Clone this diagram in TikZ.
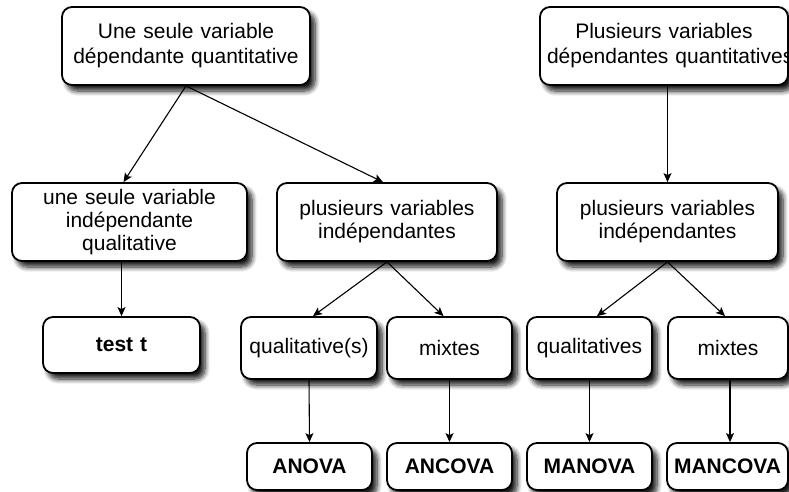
\documentclass[tikz,border=0pt]{standalone}
\usepackage{fontspec}
\setmainfont{Liberation Sans}
\usetikzlibrary{arrows.meta,shadows.blur}
\tikzset{
  box/.style={draw=black, line width=1.8pt, rounded corners=10pt, fill=white,
    inner xsep=7pt, inner ysep=0pt, align=center,
    font=\fontsize{21}{23}\selectfont,
    blur shadow={shadow xshift=5pt, shadow yshift=-6pt, shadow blur radius=5pt, shadow opacity=90, shadow blur steps=8}},
  final/.style={box, font=\fontsize{21}{23}\selectfont\bfseries},
  conn/.style={line width=1.1pt, -{Stealth[length=9pt,width=8pt,inset=2pt]}}
}
\begin{document}
\begin{tikzpicture}[x=1pt,y=-1pt]
\useasboundingbox (0,0) rectangle (789,491);
% top level
\node[box, minimum width=248pt, minimum height=78pt, text width=234pt, font=\fontsize{21}{25}\selectfont] (A) at (186,46) {Une seule variable\\dépendante quantitative};
\node[box, minimum width=248pt, minimum height=78pt, text width=234pt, font=\fontsize{21}{25}\selectfont] (B) at (664,46) {Plusieurs variables\\\mbox{dépendantes quantitatives}};
% second level
\node[box, minimum width=235pt, minimum height=78pt, text width=221pt] (C) at (129.5,222) {une seule variable\\indépendante\\qualitative};
\node[box, minimum width=220pt, minimum height=78pt, text width=206pt] (D) at (387,222) {plusieurs variables\\indépendantes};
\node[box, minimum width=221pt, minimum height=78pt, text width=207pt] (E) at (667.5,222) {plusieurs variables\\indépendantes};
% third level
\node[final, minimum width=157pt, minimum height=56pt, text width=143pt] (T) at (121.5,345) {test t};
\node[box, minimum width=136pt, minimum height=62pt, text width=122pt] (QS) at (309,348) {qualitative(s)};
\node[box, minimum width=125pt, minimum height=62pt, text width=111pt] (MX1) at (449.5,348) {mixtes};
\node[box, minimum width=125pt, minimum height=62pt, text width=111pt] (QL) at (589.5,348) {qualitatives};
\node[box, minimum width=120pt, minimum height=62pt, text width=106pt] (MX2) at (728,348) {mixtes};
% bottom level
\node[final, minimum width=125pt, minimum height=47pt, text width=111pt] (AN) at (309.5,466.5) {ANOVA};
\node[final, minimum width=125pt, minimum height=47pt, text width=111pt] (ANC) at (449.5,466.5) {ANCOVA};
\node[final, minimum width=125pt, minimum height=47pt, text width=111pt] (MAN) at (589.5,466.5) {MANOVA};
\node[final, minimum width=121pt, minimum height=47pt, text width=107pt] (MANC) at (727.5,466.5) {MANCOVA};
% connectors
\draw[conn] (A.south) -- ([xshift=-6pt]C.north);
\draw[conn] (A.south) -- ([xshift=-4pt]D.north);
\draw[conn] (B.south -| E.north) -- (E.north);
\draw[conn] (T.north |- C.south) -- (T.north);
\draw[conn] (D.south) -- ([xshift=4pt]QS.north);
\draw[conn] (D.south) -- ([xshift=-6pt]MX1.north);
\draw[conn] (E.south) -- ([xshift=7.5pt]QL.north);
\draw[conn] (E.south) -- ([xshift=-3pt]MX2.north);
\draw[conn] (QS.south) -- (AN.north);
\draw[conn] (MX1.south) -- (ANC.north);
\draw[conn] (QL.south) -- (MAN.north);
\draw[conn] ([xshift=2pt]MX2.south) -- ([xshift=2pt]MX2.south |- MANC.north);
\end{tikzpicture}
\end{document}
